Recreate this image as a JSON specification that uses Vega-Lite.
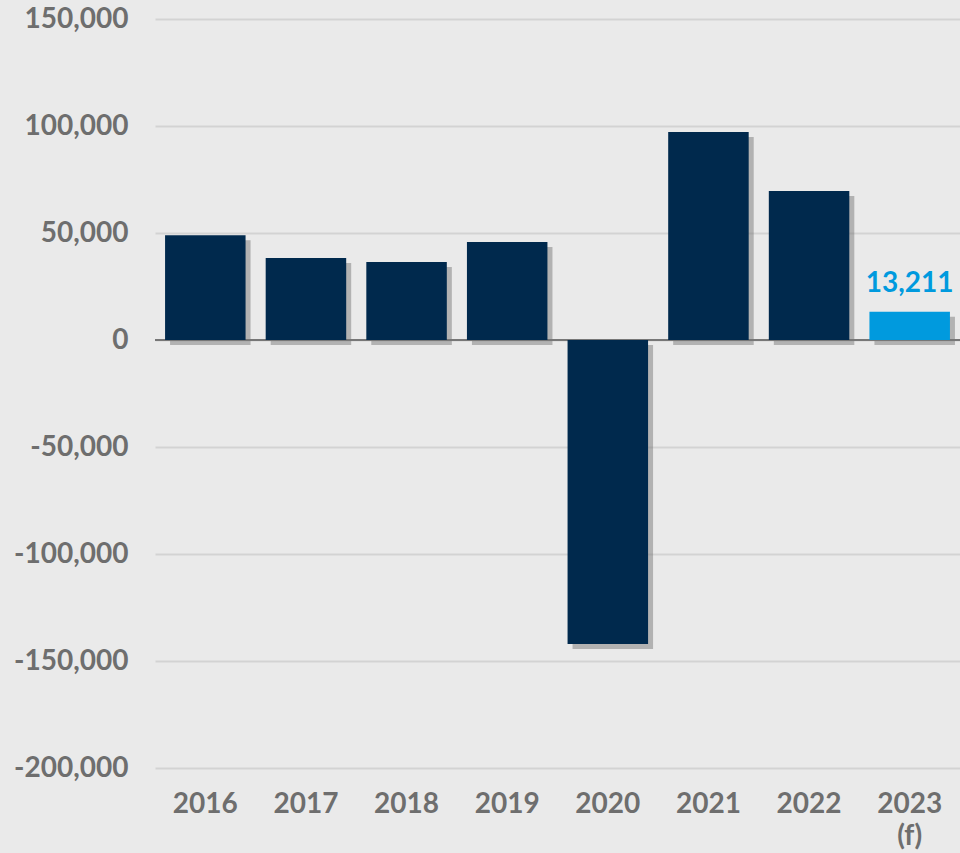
{
  "$schema": "https://vega.github.io/schema/vega-lite/v6.json",
  "width": 805,
  "height": 749,
  "autosize": {"type": "none"},
  "padding": {"left": 155, "top": 19, "right": 0, "bottom": 85},
  "background": "#eaeaea",
  "config": {
    "view": {"stroke": null},
    "font": "Lato",
    "axis": {"labelFont": "Lato", "labelFontWeight": "bold", "labelColor": "#6e6e6e", "labelFontSize": 28}
  },
  "data": {
    "values": [
      {"year": "2016", "value": 49000, "kind": "actual"},
      {"year": "2017", "value": 38300, "kind": "actual"},
      {"year": "2018", "value": 36500, "kind": "actual"},
      {"year": "2019", "value": 45800, "kind": "actual"},
      {"year": "2020", "value": -142000, "kind": "actual"},
      {"year": "2021", "value": 97200, "kind": "actual"},
      {"year": "2022", "value": 69600, "kind": "actual"},
      {"year": "2023 (f)", "value": 13211, "kind": "forecast"}
    ]
  },
  "encoding": {
    "x": {
      "field": "year", "type": "nominal", "sort": null,
      "scale": {"paddingInner": 0.2, "paddingOuter": 0.1},
      "axis": {"title": null, "domain": false, "ticks": false, "labelAngle": 0, "labelPadding": 22, "labelLineHeight": 32, "labelExpr": "split(datum.label, ' ')"}
    },
    "y": {
      "field": "value", "type": "quantitative",
      "scale": {"domain": [-200000, 150000], "nice": false},
      "axis": {"title": null, "domain": false, "ticks": false, "values": [-200000, -150000, -100000, -50000, 0, 50000, 100000, 150000], "labelExpr": "(datum.value < 0 ? '-' : '') + format(abs(datum.value), ',')", "labelPadding": 27, "gridColor": "#d3d3d3", "gridWidth": 2}
    }
  },
  "layer": [
    {
      "mark": {"type": "bar", "color": "#7a7a7a", "opacity": 0.5, "xOffset": 5, "x2Offset": 5, "yOffset": 5, "y2Offset": 5}
    },
    {
      "mark": {"type": "rule", "color": "#777777", "strokeWidth": 2},
      "encoding": {"y": {"datum": 0}, "x": {"value": 0}, "x2": {"value": 805}}
    },
    {
      "mark": {"type": "bar"},
      "encoding": {
        "color": {"field": "kind", "type": "nominal", "scale": {"domain": ["actual", "forecast"], "range": ["#00294d", "#009ade"]}, "legend": null}
      }
    },
    {
      "transform": [{"filter": "datum.kind == 'forecast'"}],
      "mark": {"type": "text", "color": "#009ade", "font": "Lato", "fontWeight": "bold", "fontSize": 28, "baseline": "bottom", "dy": -14},
      "encoding": {"text": {"field": "value", "type": "quantitative", "format": ","}}
    }
  ]
}
